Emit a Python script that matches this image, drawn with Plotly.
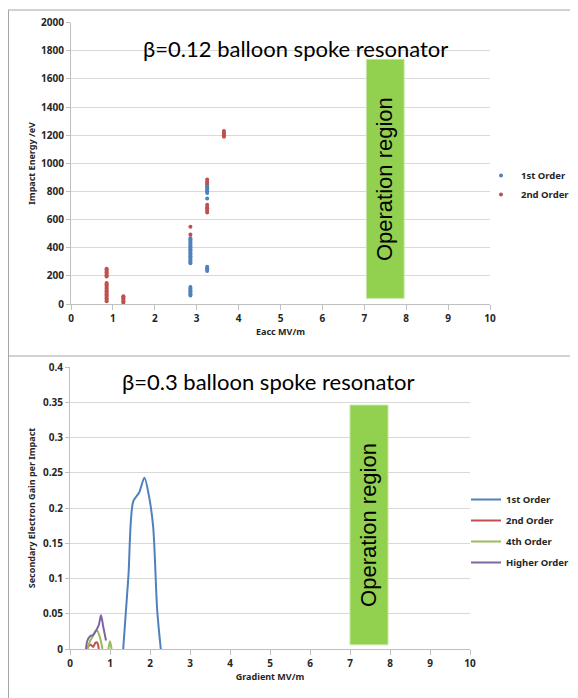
import plotly.graph_objects as go

# ---------------- data ----------------
x_tick_vals = [0, 1, 2, 3, 4, 5, 6, 7, 8, 9, 10]
x_tick_text = ["0", "1", "2", "3", "4", "5", "6", "7", "8", "9", "10"]

top_y_tick_vals = [0, 200, 400, 600, 800, 1000, 1200, 1400, 1600, 1800, 2000]
top_y_tick_text = ["0", "200", "400", "600", "800", "1000", "1200", "1400", "1600", "1800", "2000"]

bot_y_tick_vals = [0, 0.05, 0.1, 0.15, 0.2, 0.25, 0.3, 0.35, 0.4]
bot_y_tick_text = ["0", "0.05", "0.1", "0.15", "0.2", "0.25", "0.3", "0.35", "0.4"]

# beta=0.12 : impact energy (eV) vs Eacc (MV/m), grouped by Eacc column
first_order_cols_x = [2.85, 3.25]
first_order_cols_y = [
    [60, 70, 80, 90, 100, 110, 120, 290, 300, 310, 320, 330, 340, 350, 360, 370,
     380, 390, 400, 410, 420, 430, 440, 450, 460, 470],
    [235, 245, 255, 265, 750, 790, 800, 810, 820, 830, 840, 850],
]
second_order_cols_x = [0.85, 1.25, 2.85, 3.25, 3.65]
second_order_cols_y = [
    [20, 30, 40, 50, 60, 70, 80, 90, 100, 110, 120, 130, 140, 150, 195, 205, 215,
     225, 235, 245, 250],
    [10, 20, 30, 40, 50, 55],
    [495, 550],
    [650, 665, 680, 690, 705, 860, 870, 885],
    [1190, 1200, 1210, 1220, 1230],
]

# beta=0.3 : secondary electron gain vs gradient (MV/m)
g1_x = [1.33, 1.46, 1.58, 1.73, 1.86, 1.98, 2.08, 2.18, 2.27]
g1_y = [0, 0.103, 0.209, 0.222, 0.243, 0.215, 0.173, 0.055, 0]
g2_x = [0.43, 0.475, 0.52, 0.58, 0.64, 0.68, 0.72]
g2_y = [0, 0.005, 0.006, 0.003, 0.009, 0.009, 0]
g4_x = [0.43, 0.5, 0.57, 0.63, 0.68, 0.73, 0.78, 0.81, None, 0.96, 1.0, 1.04]
g4_y = [0, 0.011, 0.018, 0.025, 0.026, 0.02, 0.009, 0, None, 0, 0.011, 0]
gh_x = [0.4, 0.43, 0.5, 0.58, 0.65, 0.72, 0.775, 0.83, 0.9]
gh_y = [0, 0.011, 0.018, 0.02, 0.026, 0.034, 0.048, 0.032, 0.012]

op_top_x = [7.05, 7.95]
op_top_y = [40, 1740]
op_bot_x = [7.0, 7.95]
op_bot_y = [0.006, 0.346]


def flatten(cols_x, cols_y):
    xs, ys = [], []
    for cx, cy in zip(cols_x, cols_y):
        for v in cy:
            xs.append(cx)
            ys.append(v)
    return xs, ys


fo_x, fo_y = flatten(first_order_cols_x, first_order_cols_y)
so_x, so_y = flatten(second_order_cols_x, second_order_cols_y)

# ---------------- styling ----------------
# page body has an 8px margin, so the figure is sized to fit the window
OFF = 8
W, H = 578 - OFF, 698 - OFF
FONT = "Noto Sans"
TFONT = "Lato"
BLUE = "#4F81BD"
RED = "#C0504D"
GREEN = "#9BBB59"
PURPLE = "#8064A2"
OPGREEN = "#92D050"
GRID = "#D9D9D9"
AXIS = "#BFBFBF"
TXT = "#262626"


def px_x(p):
    return max(0.0, (p - OFF) / W)


def px_y(p):
    return min(1.0, 1 - (p - OFF) / H)


fig = go.Figure()

fig.add_trace(go.Scatter(x=fo_x, y=fo_y, mode="markers", name="1st Order",
                         marker=dict(color=BLUE, size=4), xaxis="x", yaxis="y",
                         legend="legend"))
fig.add_trace(go.Scatter(x=so_x, y=so_y, mode="markers", name="2nd Order",
                         marker=dict(color=RED, size=4), xaxis="x", yaxis="y",
                         legend="legend"))

for xs, ys, nm, col in [(g1_x, g1_y, "1st Order", BLUE), (g2_x, g2_y, "2nd Order", RED),
                        (g4_x, g4_y, "4th Order", GREEN), (gh_x, gh_y, "Higher Order", PURPLE)]:
    fig.add_trace(go.Scatter(x=xs, y=ys, mode="lines", name=nm, legendgroup=nm,
                             line=dict(color=col, width=2, shape="spline", smoothing=0.8),
                             xaxis="x2", yaxis="y2", legend="legend2"))

tickfont = dict(family=FONT, size=10, color=TXT, weight=700)
titlefont = dict(family=FONT, size=9, color=TXT, weight=700)
legfont = dict(family=FONT, size=9.5, color=TXT, weight=700)

common_x = dict(range=[0, 10], tickvals=x_tick_vals, ticktext=x_tick_text,
                showgrid=False, showline=True, linecolor=AXIS, linewidth=1,
                ticks="outside", ticklen=5, tickcolor=AXIS, tickfont=tickfont,
                zeroline=False, fixedrange=True, automargin=False)
common_y = dict(showgrid=True, gridcolor=GRID, gridwidth=1, showline=True,
                linecolor=AXIS, linewidth=1, ticks="outside", ticklen=4,
                tickcolor=AXIS, tickfont=tickfont, zeroline=False, fixedrange=True,
                automargin=False)

fig.update_layout(
    width=W, height=H,
    margin=dict(l=0, r=0, t=0, b=0, autoexpand=False),
    paper_bgcolor="white", plot_bgcolor="white",
    font=dict(family=FONT, color=TXT),
    xaxis=dict(domain=[px_x(71), px_x(490)], anchor="y",
               title=dict(text="Eacc MV/m", font=titlefont, standoff=4), **common_x),
    yaxis=dict(domain=[px_y(304), px_y(22.7)], anchor="x", range=[0, 2000],
               tickvals=top_y_tick_vals, ticktext=top_y_tick_text,
               title=dict(text="Impact Energy /eV", font=titlefont, standoff=3), **common_y),
    xaxis2=dict(domain=[px_x(70), px_x(470)], anchor="y2",
                title=dict(text="Gradient MV/m", font=titlefont, standoff=4), **common_x),
    yaxis2=dict(domain=[px_y(649), px_y(367)], anchor="x2", range=[0, 0.4],
                tickvals=bot_y_tick_vals, ticktext=bot_y_tick_text,
                title=dict(text="Secondary Electron Gain per Impact", font=titlefont, standoff=5),
                **common_y),
    legend=dict(x=px_x(481), y=px_y(161), xanchor="left", yanchor="top",
                font=legfont, bgcolor="rgba(0,0,0,0)", itemwidth=30),
    legend2=dict(x=px_x(466), y=px_y(485), xanchor="left", yanchor="top",
                 font=legfont, bgcolor="rgba(0,0,0,0)", itemwidth=30,
                 traceorder="grouped", tracegroupgap=2),
    showlegend=True,
)

# operation region boxes
fig.add_shape(type="rect", xref="x", yref="y", x0=op_top_x[0], x1=op_top_x[1],
              y0=op_top_y[0], y1=op_top_y[1], fillcolor=OPGREEN,
              line=dict(color="#C6E5A0", width=1), layer="above")
fig.add_shape(type="rect", xref="x2", yref="y2", x0=op_bot_x[0], x1=op_bot_x[1],
              y0=op_bot_y[0], y1=op_bot_y[1], fillcolor=OPGREEN,
              line=dict(color="#C6E5A0", width=1), layer="above")
fig.add_annotation(x=sum(op_top_x) / 2, y=sum(op_top_y) / 2, xref="x", yref="y",
                   text="Operation region", textangle=-90, showarrow=False,
                   font=dict(family="Liberation Sans", size=22, color="black"))
fig.add_annotation(x=sum(op_bot_x) / 2, y=sum(op_bot_y) / 2, xref="x2", yref="y2",
                   text="Operation region", textangle=-90, showarrow=False,
                   font=dict(family="Liberation Sans", size=22, color="black"))

# chart titles
fig.add_annotation(x=px_x(295), y=px_y(33), xref="paper", yref="paper",
                   text="β=0.12 balloon spoke resonator", showarrow=False,
                   font=dict(family=TFONT, size=22, color="black"))
fig.add_annotation(x=px_x(268), y=px_y(381), xref="paper", yref="paper",
                   text="β=0.3 balloon spoke resonator", showarrow=False,
                   font=dict(family=TFONT, size=22, color="black"))

# panel frames
FRAME = "#A6A6A6"
fig.add_shape(type="line", xref="paper", yref="paper", x0=px_x(8), x1=1,
              y0=px_y(10), y1=px_y(10), line=dict(color=FRAME, width=1))
fig.add_shape(type="line", xref="paper", yref="paper", x0=px_x(8.5), x1=px_x(8.5),
              y0=0, y1=px_y(10), line=dict(color=FRAME, width=1))
fig.add_shape(type="line", xref="paper", yref="paper", x0=px_x(8), x1=1,
              y0=px_y(356), y1=px_y(356), line=dict(color=FRAME, width=1))

fig.write_html("out.html")
